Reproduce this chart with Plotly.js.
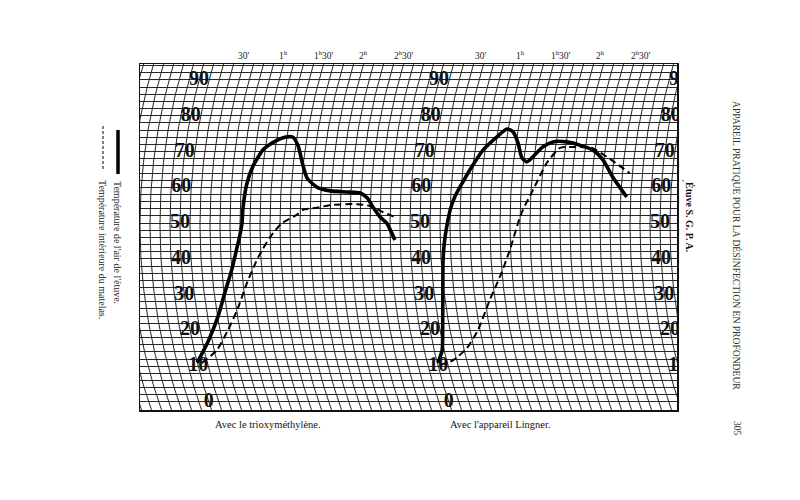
<!DOCTYPE html>
<html>
<head>
<meta charset="utf-8">
<script src="https://cdn.plot.ly/plotly-3.0.1.min.js"></script>
<style>html,body{margin:0;padding:0;background:#fff;}#chart{width:800px;height:500px;}</style>
</head>
<body>
<div id="chart"></div>
<script>
// ---- data (elapsed minutes, temperature °C) ----
// Panel 1 : "Avec le trioxyméthylène."
const p1AirMin  = [0, 12, 23, 30.5, 37.5, 42.5, 44, 46.5, 47, 49, 52.5, 58.5, 65, 73.5, 79.5, 84.5, 89, 94, 102, 112, 124.5, 134.5, 140, 144.5, 150, 155, 161];
const p1AirTemp = [11, 17, 24, 30.5, 37, 43.3, 45.3, 50, 54, 61, 66, 70.5, 72.5, 74, 74, 71.5, 67, 62.5, 60, 59, 58.7, 58.4, 57, 54.5, 51.7, 50, 45.3];
const p1MatMin  = [3.5, 17, 28.5, 38, 48, 58, 67.5, 76.5, 87.5, 92, 102.5, 112, 132.5, 142, 152, 161];
const p1MatTemp = [10.9, 14.5, 20.1, 25.7, 33.3, 40.5, 46.1, 50, 52.3, 53.7, 54.3, 55, 55.3, 54.8, 53.1, 51.7];
// Panel 2 : "Avec l'appareil Lingner."
const p2AirMin  = [0.5, 6, 10, 14, 16.5, 18, 20, 22.5, 25.5, 30.5, 36.5, 43.5, 52.5, 59, 64, 69, 73.5, 77.5, 81.5, 88, 95, 105.5, 115.5, 126, 134.5, 143, 154.5];
const p2AirTemp = [10.9, 14.5, 21, 30.5, 39.7, 44.4, 48.9, 53.7, 57.3, 61.2, 65.7, 70.4, 74.1, 76.3, 75.5, 72.4, 68.2, 67.1, 68.5, 71.3, 72.7, 72.7, 71.8, 70.4, 67.6, 62.9, 57.3];
const p2MatMin  = [1.5, 12.5, 25, 36, 48.5, 58, 67, 73.5, 77, 84, 92.5, 101, 110.5, 125, 137, 155.5];
const p2MatTemp = [10.3, 11.7, 15.1, 20.1, 28.5, 34.9, 42.5, 50, 53.7, 59.3, 66.8, 71, 71.3, 71, 68.5, 64];

const panelStarts = [0, 180, 360];          // minutes along the strip where each scale is printed
const scaleValues = [0, 10, 20, 30, 40, 50, 60, 70, 80, 90];
const topMinutes  = [30, 60, 90, 120, 150];
const topLabels   = ["30'", "1<sup>h</sup>", "1<sup>h</sup>30'", "2<sup>h</sup>", "2<sup>h</sup>30'"];

// ---- recorder paper geometry (curved time arcs) ----
const R = 560, PXY = 3.578, PXX = 4 / 3, TC = 49.5;
function arcOff(T) { const d = (T - TC) * PXY; return (R - Math.sqrt(R * R - d * d)) / PXX; }
const YMIN = -2.24, YMAX = 94.47, XMIN = -30, XMAX = 372.75;

const gx = [], gy = [];
for (let k = -10; k <= 52; k++) {
  const x0 = k * 7.5;
  for (let T = -3; T <= 95.5; T += 1) { gx.push(x0 + arcOff(T)); gy.push(T); }
  gx.push(null); gy.push(null);
}

function curve(mins, temps, start) {
  return { x: mins.map((m, i) => start + m + arcOff(temps[i])), y: temps };
}

const traces = [];
traces.push({ x: gx, y: gy, mode: 'lines', type: 'scatter', line: { color: '#262626', width: 1 }, hoverinfo: 'skip', showlegend: false });

// scale numbers along the arcs
panelStarts.forEach(s => {
  traces.push({
    x: scaleValues.map(v => s + arcOff(v)), y: scaleValues, mode: 'text', type: 'scatter',
    text: scaleValues.map(String), cliponaxis: true,
    textfont: { family: 'Liberation Serif, serif', size: 20, color: '#111', weight: 'bold' },
    hoverinfo: 'skip', showlegend: false
  });
});

const c1a = curve(p1AirMin, p1AirTemp, panelStarts[0]);
const c1m = curve(p1MatMin, p1MatTemp, panelStarts[0]);
const c2a = curve(p2AirMin, p2AirTemp, panelStarts[1]);
const c2m = curve(p2MatMin, p2MatTemp, panelStarts[1]);
[c1m, c2m].forEach(c => traces.push({ x: c.x, y: c.y, mode: 'lines', type: 'scatter',
  line: { color: '#000', width: 2, dash: '7px,4px', shape: 'spline', smoothing: 0.6 }, hoverinfo: 'skip', showlegend: false }));
[c1a, c2a].forEach(c => traces.push({ x: c.x, y: c.y, mode: 'lines', type: 'scatter',
  line: { color: '#000', width: 3.6, shape: 'spline', smoothing: 0.6 }, hoverinfo: 'skip', showlegend: false }));

const ann = [];
[0, 1].forEach(p => {
  topMinutes.forEach((m, i) => ann.push({
    x: panelStarts[p] + m + arcOff(YMAX), y: 1, xref: 'x', yref: 'paper', xanchor: 'center', yanchor: 'bottom', yshift: 1,
    xshift: p === 1 ? -3 : 0,
    text: topLabels[i], showarrow: false, font: { family: 'Liberation Serif, serif', size: 9.5, color: '#222' }
  }));
});
const serif = 'Liberation Serif, DejaVu Serif, serif';
function px(x) { return (x - 140) / 537; }
function py(y) { return (410 - y) / 346; }
function note(x, y, text, size, angle, color) {
  ann.push({ x: px(x), y: py(y), xref: 'paper', yref: 'paper', xanchor: 'center', yanchor: 'middle',
    text: text, textangle: angle, showarrow: false, font: { family: serif, size: size, color: color } });
}
note(268, 424, 'Avec le trioxyméthylène.', 10.5, 0, '#111');
note(500, 424, "Avec l'appareil Lingner.", 10.5, 0, '#111');
// left legend (rotated)
note(118, 242, "Température de l'air de l'étuve.", 10, 90, '#222');
note(103, 249, 'Température intérieure du matelas.', 10, 90, '#222');
// right side texts
note(737, 245, 'APPAREIL PRATIQUE POUR LA DÉSINFECTION EN PROFONDEUR', 9.6, 90, '#333');
note(737, 428, '305', 9.5, 90, '#333');
note(690, 217, '<b>Étuve S. G. P. A.</b>', 10, 90, '#111');
note(683, 181, '•', 6, 0, '#333');

const shapes = [
  { type: 'line', xref: 'paper', yref: 'paper', x0: px(118), x1: px(118), y0: py(130), y1: py(174), line: { color: '#000', width: 3.5 } },
  { type: 'line', xref: 'paper', yref: 'paper', x0: px(103), x1: px(103), y0: py(126), y1: py(170), line: { color: '#000', width: 1, dash: '3px,2px' } }
];

const layout = {
  width: 800, height: 500,
  margin: { l: 140, r: 123, t: 64, b: 90 },
  paper_bgcolor: '#fff', plot_bgcolor: '#fff',
  showlegend: false,
  xaxis: { range: [XMIN, XMAX], showgrid: false, zeroline: false, showticklabels: false, ticks: '',
    showline: true, mirror: true, linecolor: '#111', linewidth: 1.5 },
  yaxis: { range: [YMIN, YMAX], showgrid: true, gridcolor: '#262626', gridwidth: 1, dtick: 2, tick0: 0,
    zeroline: false, showticklabels: false, ticks: '', showline: true, mirror: true, linecolor: '#111', linewidth: 1.5 },
  annotations: ann, shapes: shapes
};
Plotly.newPlot('chart', traces, layout, { staticPlot: true, displayModeBar: false });
</script>
</body>
</html>
